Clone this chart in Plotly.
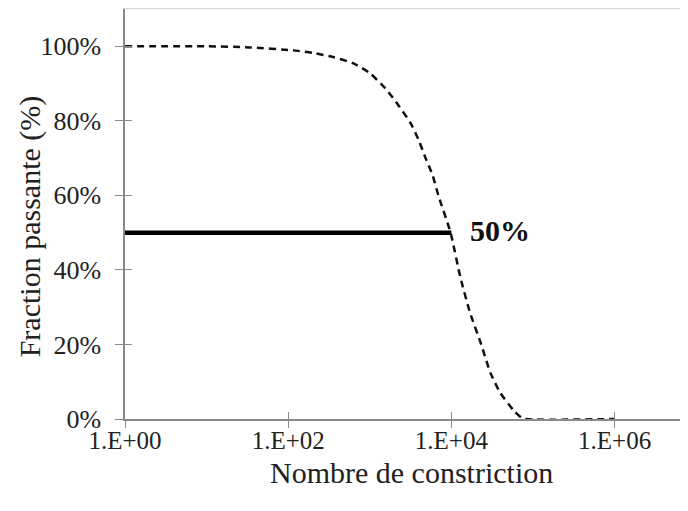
import plotly.graph_objects as go

# Dashed curve: fraction passing vs constriction number
curve_n = [1, 10, 34, 115, 204, 355, 631, 1000, 1550, 2240, 3160, 3980, 4790,
           5890, 6920, 9770, 12900, 17000, 22900, 30200, 39800, 57500, 70800,
           79400, 1000000]
curve_pct = [100, 100, 99.7, 98.9, 98.2, 97.1, 95.4, 92.8, 88.7, 84.2, 79.4,
             74.8, 70.2, 65.4, 60, 50, 38, 28.4, 20.4, 12.3, 7, 2.4, 0.5, 0, 0]

# Solid 50% marker line
line50_n = [1, 10000]
line50_pct = [50, 50]
label50 = "50%"

x_tickvals = [1, 100, 10000, 1000000]
x_ticktext = ["1.E+00", "1.E+02", "1.E+04", "1.E+06"]
y_tickvals = [0, 20, 40, 60, 80, 100]
y_ticktext = ["0%", "20%", "40%", "60%", "80%", "100%"]
x_title = "Nombre de constriction"
y_title = "Fraction passante (%)"

FONT = "Liberation Serif"
AX = "#8a8a8a"
TXT = "#222222"

fig = go.Figure()
fig.add_trace(go.Scatter(x=curve_n, y=curve_pct, mode="lines",
                         line=dict(color="#111111", width=2.5, dash="7px,5px", shape="spline", smoothing=0.6),
                         showlegend=False, hoverinfo="skip"))
fig.add_trace(go.Scatter(x=line50_n, y=line50_pct, mode="lines",
                         line=dict(color="#000000", width=4.5),
                         showlegend=False, hoverinfo="skip"))
# invisible traces to activate the overlay axes (tick crosses and top border)
fig.add_trace(go.Scatter(x=[1], y=[0], xaxis="x2", yaxis="y2", mode="markers",
                         marker=dict(opacity=0), showlegend=False, hoverinfo="skip"))
fig.add_trace(go.Scatter(x=[1], y=[0], xaxis="x3", yaxis="y2", mode="markers",
                         marker=dict(opacity=0), showlegend=False, hoverinfo="skip"))

xr = [0, 6.9]
yr = [0, 110]

fig.update_layout(
    width=680, height=503,
    margin=dict(l=117, r=0, t=1, b=92, autoexpand=False),
    paper_bgcolor="white", plot_bgcolor="white",
    font=dict(family=FONT, color=TXT),
    xaxis=dict(type="log", range=xr, tickvals=x_tickvals, ticktext=x_ticktext,
               showgrid=False, zeroline=False, showline=True, linecolor=AX, linewidth=1.5,
               ticks="outside", ticklen=7, tickcolor=AX, tickwidth=1.2, automargin=False,
               ticklabelstandoff=-9,
               tickfont=dict(family=FONT, size=25, color=TXT)),
    xaxis2=dict(type="log", range=xr, overlaying="x", side="bottom", tickvals=x_tickvals,
                showticklabels=False, showgrid=False, zeroline=False, showline=False,
                ticks="inside", ticklen=7, tickcolor=AX, tickwidth=1.2),
    xaxis3=dict(type="log", range=xr, overlaying="x", side="top", showticklabels=False,
                showgrid=False, zeroline=False, showline=True, linecolor="#d4d4d4", linewidth=2,
                ticks=""),
    yaxis=dict(range=yr, tickvals=y_tickvals, ticktext=y_ticktext,
               showgrid=False, zeroline=False, showline=True, linecolor=AX, linewidth=1.5,
               ticks="outside", ticklen=8, tickcolor=AX, tickwidth=1.2, ticklabelstandoff=9,
               automargin=False, tickfont=dict(family=FONT, size=26, color=TXT)),
    yaxis2=dict(range=yr, overlaying="y", side="left", tickvals=y_tickvals,
                showticklabels=False, showgrid=False, zeroline=False, showline=False,
                ticks="inside", ticklen=7, tickcolor=AX, tickwidth=1.2),
    annotations=[
        dict(x=4.2, y=50.5, xref="x", yref="y", text="<b>" + label50 + "</b>",
             showarrow=False, xanchor="left", yanchor="middle",
             font=dict(family=FONT, size=30, color="#111111")),
        dict(x=0.508, y=-0.1293, xref="paper", yref="paper", text=x_title,
             showarrow=False, xanchor="center", yanchor="middle",
             font=dict(family=FONT, size=30, color=TXT)),
        dict(x=-0.1687, y=0.47, xref="paper", yref="paper", text=y_title, textangle=-90,
             showarrow=False, xanchor="center", yanchor="middle",
             font=dict(family=FONT, size=30, color=TXT)),
    ],
)

fig.write_html("out.html")
